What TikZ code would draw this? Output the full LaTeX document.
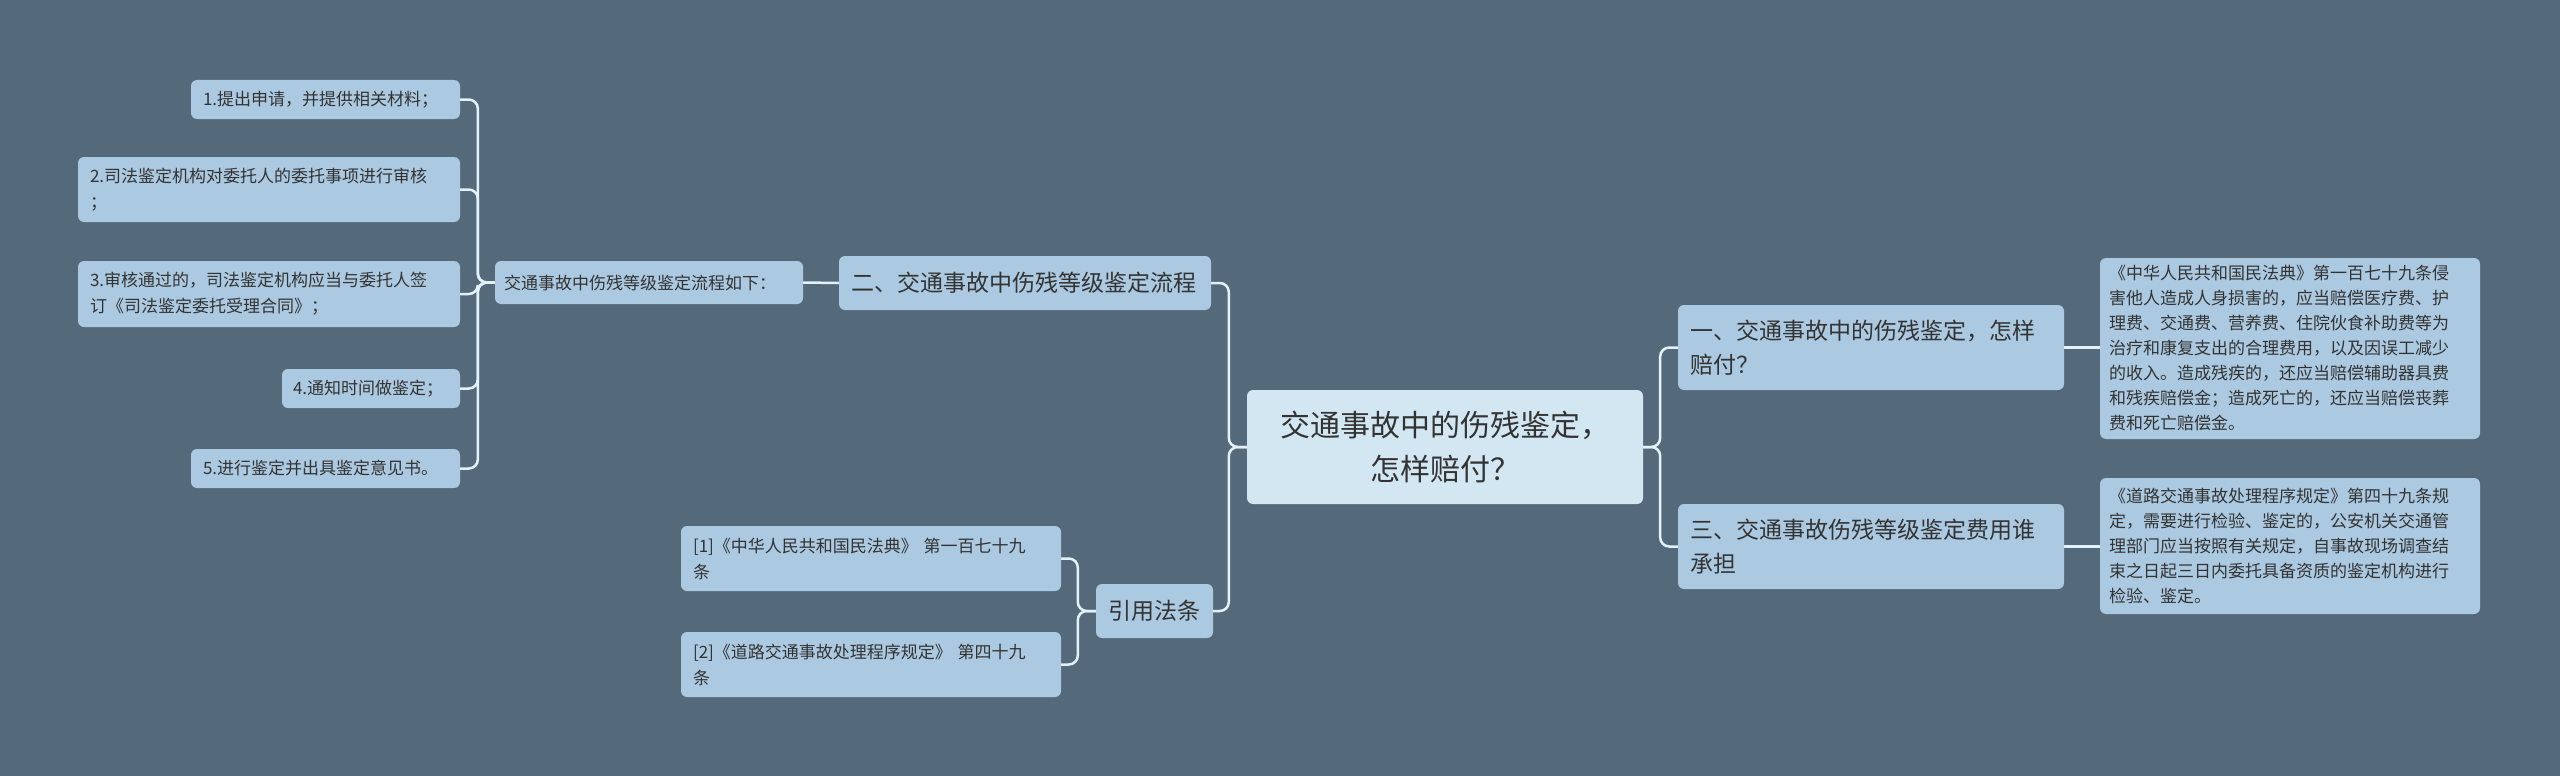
\documentclass[tikz,border=0pt]{standalone}
\usepackage{fontspec}
\setmainfont{Noto Sans CJK SC}
\begin{document}
\begin{tikzpicture}[x=1pt,y=-1pt,
  base/.style={rounded corners=6pt, inner sep=0pt, text=black!80, draw=none},
  box/.style={base, fill=boxc, align=left, font=\fontsize{17}{26}\selectfont},
  lone/.style={base, fill=boxc, align=left, font=\fontsize{23}{34}\selectfont},
  det/.style={base, fill=boxc, align=left, font=\fontsize{17}{25}\selectfont},
  conn/.style={draw=linec, line width=2.5pt, rounded corners=9pt}]
\definecolor{bgc}{HTML}{546A7A}
\definecolor{boxc}{HTML}{ABC9E0}
\definecolor{cenc}{HTML}{D3E7F3}
\definecolor{linec}{HTML}{E2F1FA}
\fill[bgc] (0,0) rectangle (2560,776);
\useasboundingbox (0,0) rectangle (2560,776);
% left branch
\node[box, minimum width=269, minimum height=39, text width=245] (b1) at (325.5,99.5) {1.提出申请，并提供相关材料；};
\node[box, minimum width=382, minimum height=65, text width=358] (b2) at (269,189.5) {2.司法鉴定机构对委托人的委托事项进行审核\\；};
\node[box, minimum width=382, minimum height=66, text width=358] (b3) at (269,294) {3.审核通过的，司法鉴定机构应当与委托人签\\订《司法鉴定委托受理合同》；};
\node[box, minimum width=178, minimum height=39, text width=156] (b4) at (371,388.5) {4.通知时间做鉴定；};
\node[box, minimum width=269, minimum height=39, text width=245] (b5) at (325.5,468.5) {5.进行鉴定并出具鉴定意见书。};
\node[box, minimum width=308, minimum height=43, text width=290] (flow) at (649,282.5) {交通事故中伤残等级鉴定流程如下：};
\node[lone, minimum width=372, minimum height=54, text width=348] (two) at (1025,283) {二、交通事故中伤残等级鉴定流程};
\node[base, fill=cenc, align=center, font=\fontsize{30}{44}\selectfont, minimum width=396, minimum height=114, text width=380] (cen) at (1445,447) {交通事故中的伤残鉴定，\\怎样赔付？};
\node[lone, minimum width=117, minimum height=54, text width=100, align=center] (cite) at (1154.5,611) {引用法条};
\node[box, minimum width=380, minimum height=65, text width=356] (r1) at (871,558.5) {[1]《中华人民共和国民法典》 第一百七十九\\条};
\node[box, minimum width=380, minimum height=65, text width=356] (r2) at (871,664.5) {[2]《道路交通事故处理程序规定》 第四十九\\条};
% right branch
\node[lone, minimum width=386, minimum height=85, text width=362] (one) at (1871,347.5) {一、交通事故中的伤残鉴定，怎样\\赔付？};
\node[lone, minimum width=386, minimum height=85, text width=362] (three) at (1871,546.5) {三、交通事故伤残等级鉴定费用谁\\承担};
\node[det, minimum width=380, minimum height=181, text width=362] (d1) at (2290,348.5) {《中华人民共和国民法典》第一百七十九条侵\\害他人造成人身损害的，应当赔偿医疗费、护\\理费、交通费、营养费、住院伙食补助费等为\\治疗和康复支出的合理费用，以及因误工减少\\的收入。造成残疾的，还应当赔偿辅助器具费\\和残疾赔偿金；造成死亡的，还应当赔偿丧葬\\费和死亡赔偿金。};
\node[det, minimum width=380, minimum height=136, text width=362] (d2) at (2290,546) {《道路交通事故处理程序规定》第四十九条规\\定，需要进行检验、鉴定的，公安机关交通管\\理部门应当按照有关规定，自事故现场调查结\\束之日起三日内委托具备资质的鉴定机构进行\\检验、鉴定。};
% connectors
\foreach \n in {b1,b2,b3,b4,b5} \draw[conn] (flow.west) -- ++(-17,0) |- (\n.east);
\draw[conn] (two.west) -- (flow.east);
\draw[conn] (cen.west) -- ++(-18,0) |- (two.east);
\draw[conn] (cen.west) -- ++(-18,0) |- (cite.east);
\draw[conn] (cite.west) -- ++(-18,0) |- (r1.east);
\draw[conn] (cite.west) -- ++(-18,0) |- (r2.east);
\draw[conn] (cen.east) -- ++(17,0) |- (one.west);
\draw[conn] (cen.east) -- ++(17,0) |- (three.west);
\draw[conn] (one.east) -- (d1.west |- one.east);
\draw[conn] (three.east) -- (d2.west |- three.east);
\end{tikzpicture}
\end{document}
